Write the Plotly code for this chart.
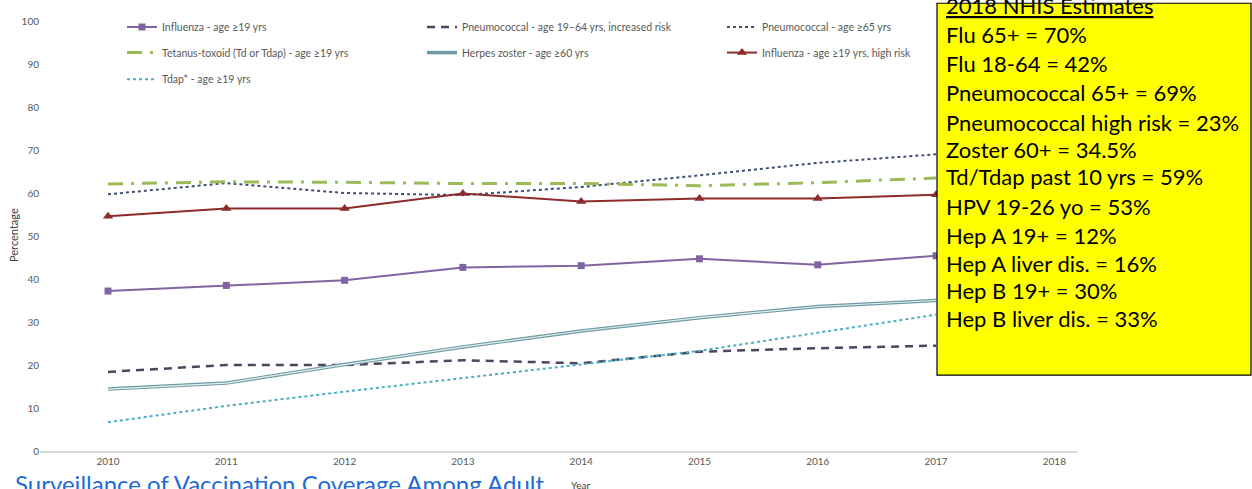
import plotly.graph_objects as go

# ---------------- data ----------------
years = [2010, 2011, 2012, 2013, 2014, 2015, 2016, 2017]
tick_years = [2010, 2011, 2012, 2013, 2014, 2015, 2016, 2017, 2018]
y_ticks = [0, 10, 20, 30, 40, 50, 60, 70, 80, 90, 100]

flu_19 = [37.2, 38.5, 39.7, 42.7, 43.1, 44.7, 43.3, 45.4]
pneumo_hr = [18.4, 20.0, 20.0, 21.1, 20.4, 23.1, 23.9, 24.5]
pneumo_65 = [59.7, 62.3, 60.0, 59.5, 61.4, 64.1, 67.0, 69.0]
tetanus = [62.1, 62.6, 62.5, 62.2, 62.2, 61.7, 62.4, 63.5]
zoster = [14.4, 15.8, 20.1, 24.2, 27.9, 31.0, 33.6, 35.0]
flu_hr = [54.6, 56.4, 56.4, 59.9, 58.0, 58.7, 58.7, 59.6]
tdap = [6.7, 10.5, 13.8, 17.0, 20.2, 23.3, 27.5, 31.7]

box_title = "2018 NHIS Estimates"
box_lines = [
    "Flu 65+ = 70%",
    "Flu 18-64 = 42%",
    "Pneumococcal 65+ = 69%",
    "Pneumococcal high risk = 23%",
    "Zoster 60+ = 34.5%",
    "Td/Tdap past 10 yrs = 59%",
    "HPV 19-26 yo = 53%",
    "Hep A 19+ = 12%",
    "Hep A liver dis. = 16%",
    "Hep B 19+ = 30%",
    "Hep B liver dis. = 33%",
]
box_line_px = [29, 58.5, 88, 118, 145, 173, 203, 232, 261, 288.5, 317]

# ---------------- layout geometry ----------------
W, H = 1252, 489
L, R, T, B = 40, 174, 15, 38
PW, PH = W - L - R, H - T - B


def px(xp):
    return (xp - L) / PW


def py(yp):
    return (H - B - yp) / PH


FONT = "Lato"
GREY = "#595959"

fig = go.Figure()

fig.add_trace(go.Scatter(
    x=years, y=flu_19, name="Influenza - age ≥19 yrs", legend="legend",
    mode="lines+markers", line=dict(color="#8064A2", width=2),
    marker=dict(symbol="square", size=7, color="#8064A2")))
fig.add_trace(go.Scatter(
    x=years, y=pneumo_hr, name="Pneumococcal - age 19–64 yrs, increased risk", legend="legend",
    mode="lines", line=dict(color="#4D4660", width=2.5, dash="8px,6px")))
fig.add_trace(go.Scatter(
    x=years, y=pneumo_65, name="Pneumococcal - age ≥65 yrs", legend="legend",
    mode="lines", line=dict(color="#3F4F72", width=2, dash="dot")))
fig.add_trace(go.Scatter(
    x=years, y=tetanus, name="Tetanus-toxoid (Td or Tdap) - age ≥19 yrs", legend="legend2",
    mode="lines", line=dict(color="#9BBB59", width=3, dash="15px,8px,3px,8px")))
fig.add_trace(go.Scatter(
    x=years, y=zoster, name="Herpes zoster - age ≥60 yrs", legend="legend2",
    mode="lines", line=dict(color="#6F9AA3", width=3.5)))
fig.add_trace(go.Scatter(
    x=years, y=zoster, showlegend=False, hoverinfo="skip",
    mode="lines", line=dict(color="#E2F0F2", width=1.2)))
fig.add_trace(go.Scatter(
    x=years, y=flu_hr, name="Influenza - age ≥19 yrs, high risk", legend="legend2",
    mode="lines+markers", line=dict(color="#8E2B2B", width=2),
    marker=dict(symbol="triangle-up", size=9, color="#8E2B2B")))
fig.add_trace(go.Scatter(
    x=years, y=tdap, name="Tdap* - age ≥19 yrs", legend="legend3",
    mode="lines", line=dict(color="#4BACC6", width=2, dash="dot")))

leg_common = dict(orientation="h", xanchor="left", yanchor="middle",
                  bgcolor="rgba(0,0,0,0)", entrywidth=255, entrywidthmode="pixels",
                  font=dict(family=FONT, size=10.5, color=GREY), itemwidth=30)

annotations = []
annotations.append(dict(
    x=px(944), y=py(-1), xref="paper", yref="paper", xanchor="left", yanchor="middle",
    text="<u>" + box_title + "</u>", showarrow=False,
    font=dict(family=FONT, size=22, color="black")))
for line, yp in zip(box_lines, box_line_px):
    annotations.append(dict(
        x=px(944), y=py(yp), xref="paper", yref="paper", xanchor="left", yanchor="middle",
        text=line, showarrow=False, font=dict(family=FONT, size=22, color="black")))
annotations.append(dict(
    x=px(580), y=py(485), xref="paper", yref="paper", xanchor="center", yanchor="middle",
    text="Year", showarrow=False, font=dict(family=FONT, size=10, color="#404040")))
annotations.append(dict(
    x=px(13), y=py(232), xref="paper", yref="paper", xanchor="center", yanchor="middle",
    text="Percentage", textangle=-90, showarrow=False,
    font=dict(family=FONT, size=11, color="#404040")))
annotations.append(dict(
    x=px(13), y=py(484), xref="paper", yref="paper", xanchor="left", yanchor="middle",
    text="Surveillance of Vaccination Coverage Among Adult", showarrow=False,
    font=dict(family=FONT, size=24, color="#1F6BD6")))

fig.update_layout(
    width=W, height=H,
    margin=dict(l=L, r=R, t=T, b=B),
    paper_bgcolor="white", plot_bgcolor="white",
    font=dict(family=FONT, size=10, color=GREY),
    legend=dict(x=px(122), y=py(21), **leg_common),
    legend2=dict(x=px(122), y=py(47), **leg_common),
    legend3=dict(x=px(122), y=py(74), **leg_common),
    xaxis=dict(range=[2009.425, 2018.2], tickvals=tick_years, ticktext=[str(y) for y in tick_years],
               showgrid=False, zeroline=False, showline=True, linecolor="#D9D9D9", linewidth=1.5,
               ticks="", tickfont=dict(family=FONT, size=10, color=GREY)),
    yaxis=dict(range=[0, 100], tickvals=y_ticks, showgrid=False, zeroline=False, showline=False,
               ticks="", tickfont=dict(family=FONT, size=10, color=GREY)),
    shapes=[dict(type="rect", xref="paper", yref="paper", layer="above",
                 x0=px(937), x1=px(1251), y0=py(374), y1=py(-3),
                 fillcolor="#FFFF00", line=dict(color="black", width=1.2))],
    annotations=annotations,
    showlegend=True,
)

fig.write_html(
    "out.html",
    config={"displayModeBar": False},
    post_script="document.body.style.margin='0';document.body.style.overflow='hidden';",
)
